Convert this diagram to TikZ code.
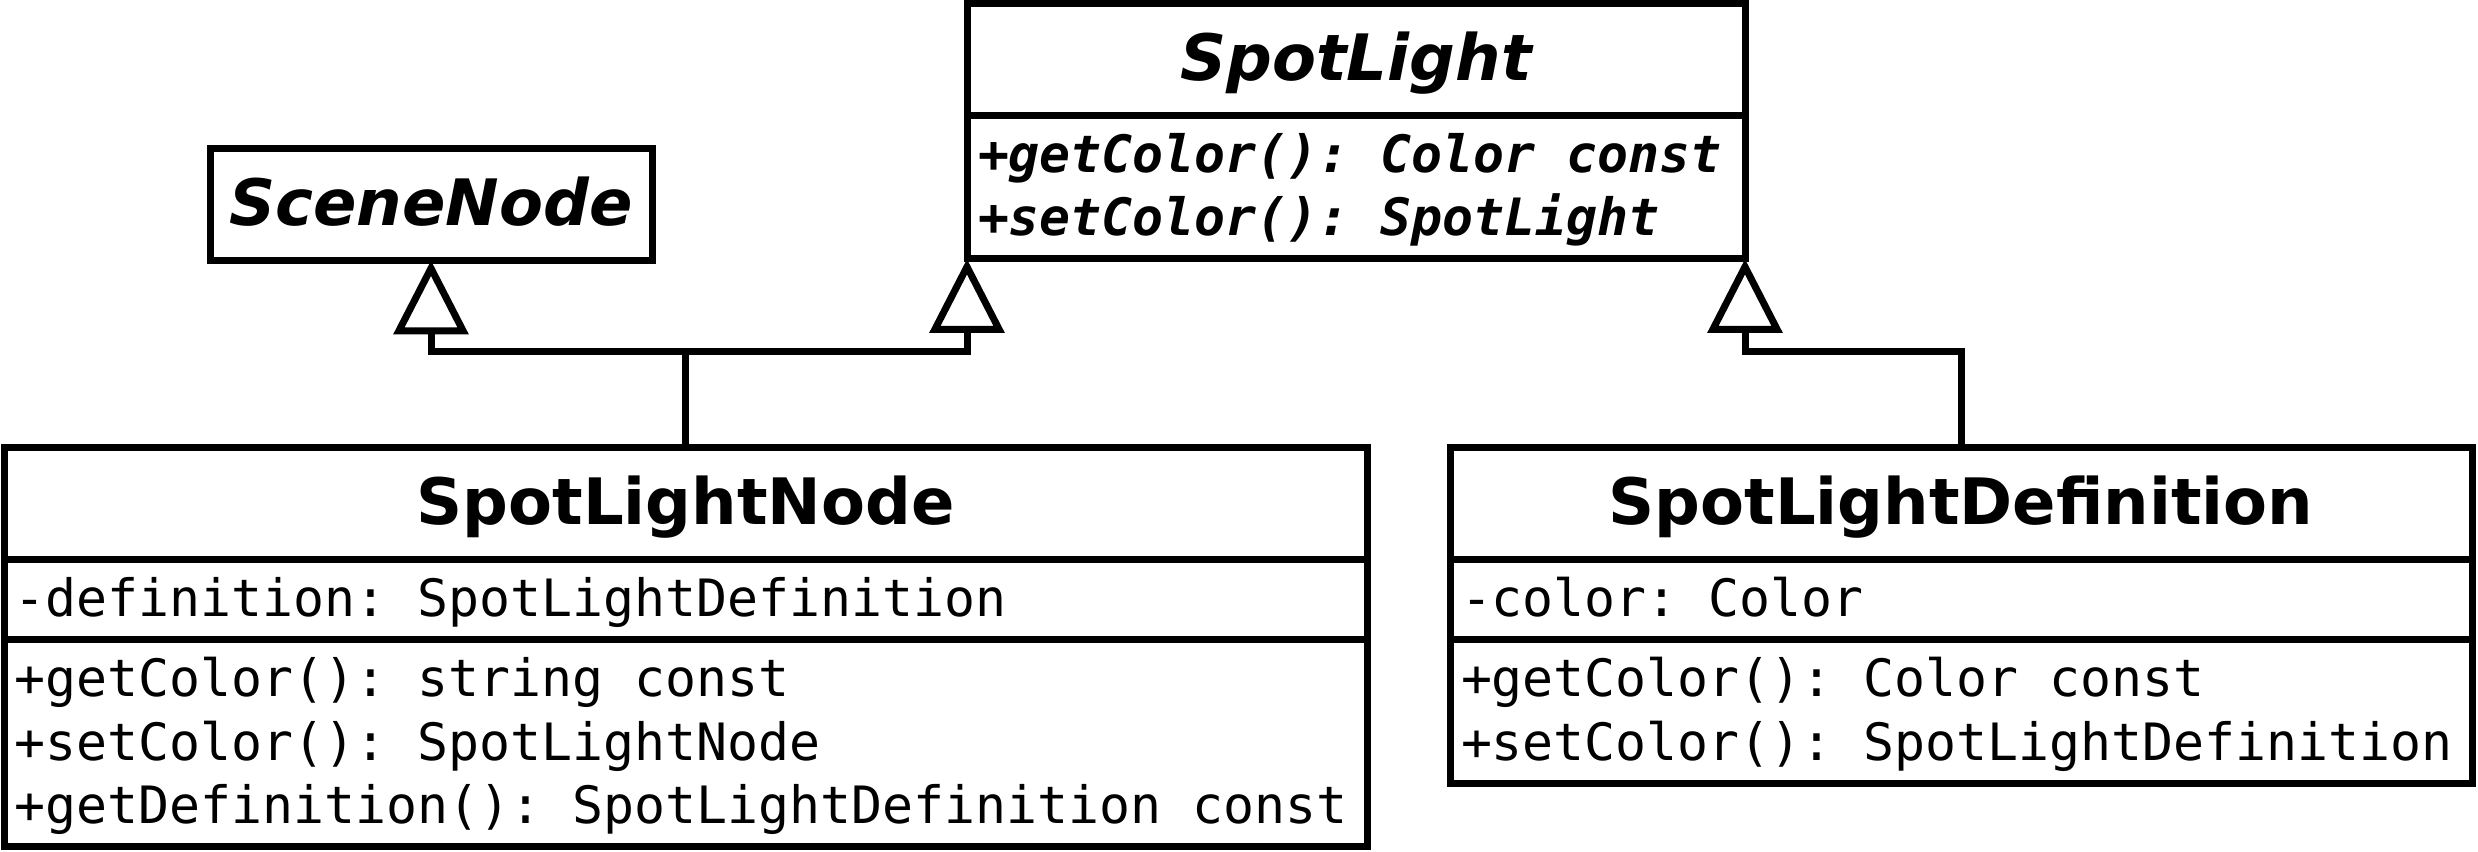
\documentclass[tikz,border=0pt]{standalone}
\usepackage{fontspec}
\setmainfont{DejaVu Sans}
\newfontfamily\umlmono{DejaVu Sans Mono}
\usetikzlibrary{arrows.meta}

\begin{document}
\begin{tikzpicture}[x=0.25pt,y=0.25pt,yscale=-1,xscale=1,
  classname/.style={draw, line width=1.75pt, outer sep=0pt, inner xsep=2pt, inner ysep=0pt,
    anchor=north, text height=19.25pt, text depth=8.75pt, font=\fontsize{16}{19.5}\selectfont\bfseries},
  abstractname/.style={classname, font=\fontsize{16}{19.5}\selectfont\bfseries\itshape},
  members/.style={draw, line width=1.75pt, outer sep=0pt, inner xsep=2.75pt, inner ysep=0pt,
    anchor=north, align=left, text height=14.25pt, font=\umlmono\fontsize{12.87}{15.875}\selectfont,
    execute at begin node={\spaceskip=0.602em\xspaceskip=0.602em\relax}},
  abstractmembers/.style={members, font=\umlmono\fontsize{12.87}{15.875}\selectfont\bfseries\itshape},
  inherit/.style={line width=1.75pt, -{Triangle[open,length=18.5pt,width=18.5pt]}}]
\useasboundingbox (0,0) rectangle (2478,852);
% abstract classes
\node [abstractname, minimum width=194.5pt] (spotlight) at (1356,3.5) {SpotLight};
\node [abstractmembers, text width=189pt, text depth=21.625pt] (spotlightops) at (spotlight.south) {+getColor(): Color const\\+setColor(): SpotLight};
\node [abstractname, minimum width=110.5pt] (scenenode) at (431,148.5) {SceneNode};
% concrete classes
\node [classname, minimum width=340.75pt] (spotlightnode) at (685.5,448) {SpotLightNode};
\node [members, text width=335.25pt, text depth=5.75pt] (spotlightnodeattr) at (spotlightnode.south) {-definition: SpotLightDefinition};
\node [members, text width=335.25pt, text depth=37.5pt] (spotlightnodeops) at (spotlightnodeattr.south) {+getColor(): string const\\+setColor(): SpotLightNode\\+getDefinition(): SpotLightDefinition const};
\node [classname, minimum width=255.5pt] (definition) at (1961,448) {SpotLightDefinition};
\node [members, text width=250pt, text depth=5.75pt] (definitionattr) at (definition.south) {-color: Color};
\node [members, text width=250pt, text depth=21.625pt] (definitionops) at (definitionattr.south) {+getColor(): Color const\\+setColor(): SpotLightDefinition};
% inheritance
\coordinate (nodejoin) at (685.5,352);
\coordinate (definitionjoin) at (1961,352);
\draw [inherit] (spotlightnode.north) -- (nodejoin) -| (scenenode.south);
\draw [inherit] (nodejoin) -| (spotlightops.south west);
\draw [inherit] (definition.north) -- (definitionjoin) -| (spotlightops.south east);
\end{tikzpicture}
\end{document}
